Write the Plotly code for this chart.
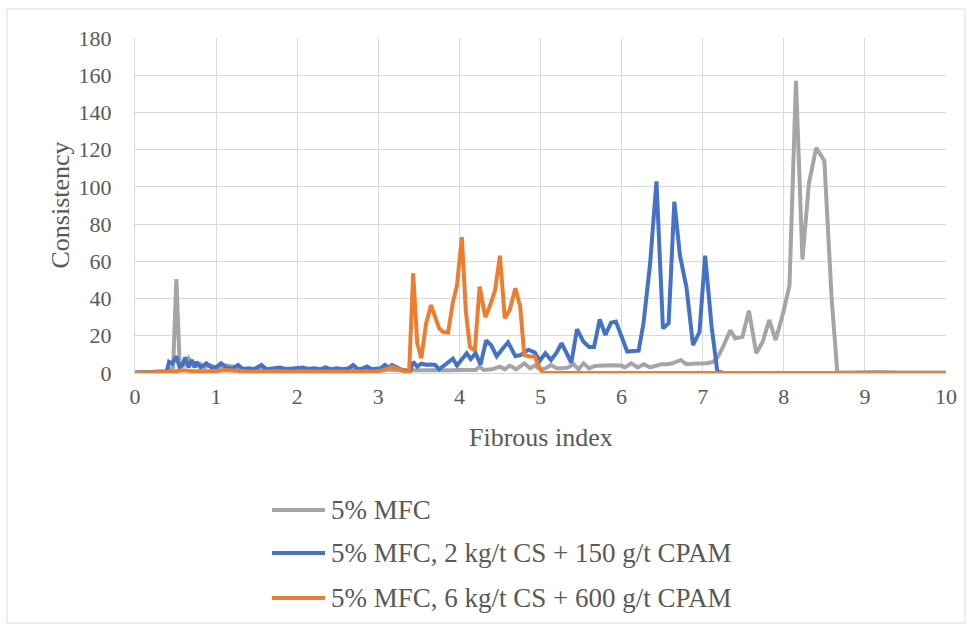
import plotly.graph_objects as go

# ---- data ----
grey_name = "5% MFC"
grey_x = [0, 0.1, 0.2, 0.3, 0.38, 0.43, 0.47, 0.51, 0.55, 0.6, 0.66, 0.72, 0.8, 0.86, 0.92, 1.0, 1.06, 1.13,
          1.2, 1.3, 1.4, 1.5, 1.6, 1.7, 1.8, 1.9, 2.0, 2.1, 2.2, 2.3, 2.4, 2.5, 2.6, 2.7, 2.8, 2.9, 3.0, 3.1,
          3.2, 3.3, 3.38, 3.43, 3.5, 3.6, 3.7, 3.8, 3.9, 4.0, 4.1, 4.2, 4.25, 4.3, 4.4, 4.5, 4.56, 4.62, 4.7,
          4.8, 4.87, 4.93, 5.0, 5.06, 5.13, 5.2, 5.27, 5.34, 5.41, 5.47, 5.53, 5.6, 5.67, 5.73, 5.8, 5.87,
          5.93, 6.0, 6.04, 6.12, 6.2, 6.27, 6.35, 6.42, 6.49, 6.56, 6.63, 6.73, 6.8, 6.88, 6.97, 7.05, 7.13,
          7.19, 7.25, 7.34, 7.4, 7.49, 7.57, 7.66, 7.74, 7.82, 7.9, 7.99, 8.07, 8.15, 8.23, 8.31, 8.4, 8.5,
          8.59, 8.66, 8.8, 9.0, 9.2, 9.4, 9.6, 9.8, 10.0]
grey_y = [0.3, 0.3, 0.5, 1, 1, 2, 3, 50.5, 5, 4, 8, 4, 5, 3, 4.3, 3, 3.5, 4,
          3.5, 2.5, 2, 2.5, 2, 2, 2.5, 2, 2, 2.5, 2, 2, 2, 2, 2, 2.5, 2, 2, 2, 2,
          1.5, 1.5, 1, 1, 1.5, 1.5, 1.5, 1.5, 1.5, 1.6, 1.6, 1.6, 3.4, 1.6, 2, 3.4, 2, 4, 2,
          5.2, 2.5, 4, 2, 2.5, 4.3, 2.5, 2.5, 3, 4.7, 2, 5.2, 2.5, 3.8, 4, 4, 4.2,
          4, 4, 3, 5.2, 3, 4.7, 3, 4, 4.7, 4.7, 5.2, 7, 4.7, 5, 5.2, 5.2, 6,
          8.8, 14, 23, 18.6, 19.5, 33.5, 10.6, 16.8, 28.5, 17.7, 32, 47, 157, 61, 102, 121, 114,
          40, 0.3, 0.3, 0.5, 0.5, 0.3, 0.5, 0.3, 0.3]

blue_name = "5% MFC, 2 kg/t CS + 150 g/t CPAM"
blue_x = [0, 0.1, 0.2, 0.3, 0.36, 0.39, 0.42, 0.46, 0.51, 0.55, 0.58, 0.62, 0.66, 0.7, 0.74, 0.76, 0.81,
          0.88, 0.94, 1.0, 1.06, 1.13, 1.2, 1.27, 1.33, 1.4, 1.47, 1.56, 1.62, 1.7, 1.79, 1.86, 1.93, 2.0,
          2.07, 2.14, 2.21, 2.28, 2.35, 2.42, 2.49, 2.56, 2.63, 2.69, 2.75, 2.81, 2.86, 2.92, 2.98, 3.03,
          3.08, 3.13, 3.17, 3.22, 3.26, 3.3, 3.35, 3.39, 3.43, 3.48, 3.53, 3.59, 3.65, 3.7, 3.75, 3.82,
          3.87, 3.92, 3.97, 4.03, 4.09, 4.14, 4.2, 4.26, 4.33, 4.39, 4.46, 4.52, 4.6, 4.69, 4.76, 4.85,
          4.93, 4.99, 5.06, 5.13, 5.2, 5.26, 5.32, 5.38, 5.45, 5.53, 5.6, 5.66, 5.73, 5.8, 5.87, 5.93,
          6.0, 6.07, 6.14, 6.21, 6.27, 6.35, 6.43, 6.51, 6.58, 6.65, 6.72, 6.8, 6.88, 6.96, 7.03, 7.11,
          7.18, 7.25, 8.0, 9.0, 10.0]
blue_y = [0.3, 0.3, 0.3, 0.3, 0.4, 0.5, 6, 5, 9, 3, 4, 8.4, 3, 7, 3, 6, 3,
          5.2, 3, 3, 5.2, 3, 2.5, 4.3, 2, 2.5, 2, 4.3, 2, 2.5, 3, 2, 2.5, 2.5,
          3, 2, 2.5, 2, 3, 2, 2.5, 2, 2.5, 4.3, 2, 2.5, 3.5, 2, 2.5, 2.5,
          4.3, 3, 4.3, 3, 2, 1.5, 1, 1, 6, 3.4, 5, 4.4, 4.6, 4.4, 2, 4.5,
          6, 7.7, 4, 7, 10.6, 7.5, 10.6, 4.5, 17.5, 15, 9, 12.4, 16.5, 9, 9.7, 12.5,
          11, 6.5, 10.6, 7, 11, 16, 11, 5.5, 23.5, 16.8, 14, 14, 28.8, 20.4, 27, 27.6,
          19.5, 11.5, 11.8, 12, 26.7, 58, 103, 24, 26.7, 92, 63, 46, 15, 22, 63, 25,
          1, 0, 0, 0, 0]

orange_name = "5% MFC, 6 kg/t CS + 600 g/t CPAM"
orange_x = [0, 0.1, 0.2, 0.3, 0.4, 0.5, 0.6, 0.7, 0.8, 0.9, 1.0, 1.1, 1.2, 1.3, 1.4, 1.5, 1.6, 1.7, 1.8,
            1.9, 2.0, 2.1, 2.2, 2.3, 2.4, 2.5, 2.6, 2.7, 2.8, 2.9, 3.0, 3.08, 3.13, 3.17, 3.22, 3.27, 3.33,
            3.38, 3.43, 3.48, 3.53, 3.59, 3.65, 3.7, 3.75, 3.8, 3.86, 3.92, 3.97, 4.03, 4.08, 4.13, 4.19,
            4.25, 4.32, 4.38, 4.44, 4.5, 4.56, 4.62, 4.69, 4.75, 4.8, 4.87, 4.93, 4.99, 5.03, 5.1, 6.0,
            7.0, 8.0, 9.0, 10.0]
orange_y = [0, 0, 0, 0, 0.5, 1, 1.5, 1, 1, 0.8, 1, 1.6, 1.2, 1, 0.8, 0.8, 1, 1, 1,
            0.8, 1, 1, 0.8, 0.8, 0.8, 0.8, 0.8, 0.8, 0.8, 0.8, 1, 1.6, 2.5, 3.4, 2.5, 2, 0.5,
            0.5, 53.6, 16, 7.9, 26.7, 36.5, 30, 24, 22, 21.6, 38, 47, 73, 33, 14, 12,
            46.4, 30, 36.5, 44.6, 63, 29.4, 33.9, 45.5, 35.6, 9.7, 8.8, 8.8, 2.5, 0.2, 0, 0,
            0, 0, 0, 0]

x_ticks = [0, 1, 2, 3, 4, 5, 6, 7, 8, 9, 10]
y_ticks = [0, 20, 40, 60, 80, 100, 120, 140, 160, 180]
x_title = "Fibrous index"
y_title = "Consistency"

FONT = "Liberation Serif"
TXT = "#595959"
GRID = "#D9D9D9"
COLORS = ["#A5A5A5", "#4472C4", "#ED7D31"]
LW = 4

# plot-area geometry in pixels (for placing titles / frame / legend)
L, R, T, B, W, H = 135, 946, 38, 373, 972, 630
PW, PH = R - L, B - T


def px_x(p):
    return (p - L) / PW


def px_y(p):
    return (B - p) / PH


series = [(grey_name, grey_x, grey_y), (blue_name, blue_x, blue_y), (orange_name, orange_x, orange_y)]

fig = go.Figure()
for (name, xs, ys), col in zip(series, COLORS):
    fig.add_trace(go.Scatter(x=xs, y=ys, mode="lines", name=name, showlegend=False,
                             line=dict(color=col, width=LW)))

shapes = [dict(type="rect", xref="paper", yref="paper", x0=px_x(7), x1=px_x(965),
               y0=px_y(623), y1=px_y(9), line=dict(color="#D9D9D9", width=1),
               fillcolor="rgba(0,0,0,0)", layer="below")]
annotations = [
    dict(text=x_title, xref="paper", yref="paper", x=0.5, y=px_y(437),
         xanchor="center", yanchor="middle", showarrow=False,
         font=dict(family=FONT, size=26, color=TXT)),
    dict(text=y_title, xref="paper", yref="paper", x=px_x(60), y=0.5,
         xanchor="center", yanchor="middle", showarrow=False, textangle=-90,
         font=dict(family=FONT, size=26, color=TXT)),
]
# legend (bottom, Excel style)
for (name, _, _), col, yy in zip(series, COLORS, [510, 553, 598]):
    shapes.append(dict(type="line", xref="paper", yref="paper",
                       x0=px_x(272), x1=px_x(325), y0=px_y(yy), y1=px_y(yy),
                       line=dict(color=col, width=LW)))
    annotations.append(dict(text=name, xref="paper", yref="paper", x=px_x(329), y=px_y(yy),
                            xanchor="left", yanchor="middle", showarrow=False,
                            font=dict(family=FONT, size=27, color=TXT)))

fig.update_layout(
    width=W, height=H,
    paper_bgcolor="white", plot_bgcolor="white",
    margin=dict(l=L, r=W - R, t=T, b=H - B, autoexpand=False),
    font=dict(family=FONT, color=TXT, size=22),
    showlegend=False,
    xaxis=dict(range=[0, 10], tickvals=x_ticks, ticktext=[str(v) for v in x_ticks],
               showgrid=True, gridcolor=GRID, gridwidth=1, zeroline=False,
               showline=True, linecolor=GRID, linewidth=1, tickangle=0,
               ticks="outside", ticklen=4, tickcolor="rgba(0,0,0,0)",
               tickfont=dict(family=FONT, size=22, color=TXT)),
    yaxis=dict(range=[0, 180], tickvals=y_ticks, ticktext=[str(v) for v in y_ticks],
               showgrid=True, gridcolor=GRID, gridwidth=1, zeroline=False,
               showline=True, linecolor=GRID, linewidth=1,
               ticks="outside", ticklen=18, tickcolor="rgba(0,0,0,0)",
               tickfont=dict(family=FONT, size=22, color=TXT)),
    annotations=annotations,
    shapes=shapes,
)

fig.write_html("out.html")
